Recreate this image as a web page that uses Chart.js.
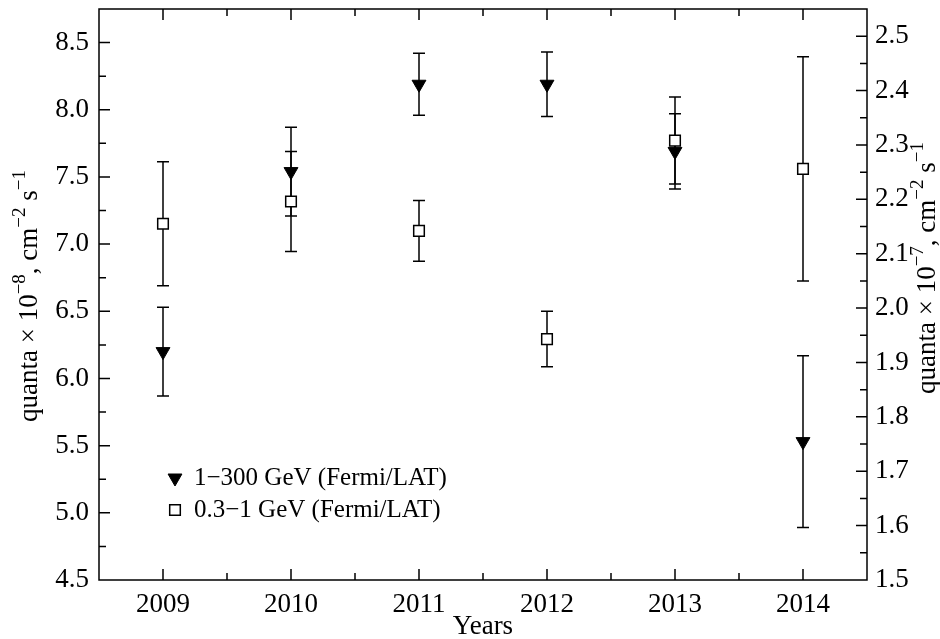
<!DOCTYPE html>
<html>
<head>
<meta charset="utf-8">
<script src="https://cdn.jsdelivr.net/npm/chart.js@4.4.1/dist/chart.umd.min.js"></script>
<style>
  html, body { margin: 0; padding: 0; background: #fff; }
  #wrap { width: 940px; height: 639px; }
</style>
</head>
<body>
<div id="wrap"><canvas id="fluxChart" width="940" height="639"></canvas></div>
<script>
// Yıllar ve akı değerleri
const years = [2009, 2010, 2011, 2012, 2013, 2014];
// 1-300 GeV (sol eksen, x 10^-8)
const hardFlux = [6.20, 7.54, 8.19, 8.19, 7.69, 5.53];
const hardErr = [0.33, 0.33, 0.23, 0.24, 0.28, 0.64];
// 0.3-1 GeV (sağ eksen, x 10^-7)
const softFlux = [2.155, 2.196, 2.142, 1.943, 2.308, 2.256];
const softErr = [0.114, 0.092, 0.056, 0.051, 0.080, 0.206];

// Eksen etiketleri
const xTicks = [2009, 2010, 2011, 2012, 2013, 2014];
const leftTicks = [4.5, 5.0, 5.5, 6.0, 6.5, 7.0, 7.5, 8.0, 8.5];
const rightTicks = [1.5, 1.6, 1.7, 1.8, 1.9, 2.0, 2.1, 2.2, 2.3, 2.4, 2.5];

const legendLabels = ['1\u2212300 GeV (Fermi/LAT)', '0.3\u22121 GeV (Fermi/LAT)'];

const FONT = 'Liberation Serif, Times New Roman, serif';
const FONT_SIZE = 27;

function fixWidth(w) {
    return function(scale) {
        scale.width = w;
        scale.paddingTop = 0;
        scale.paddingBottom = 0;
    };
}

// Hata çubukları
const errorBars = {
    id: 'errorBars',
    beforeDatasetsDraw(chart) {
        const ctx = chart.ctx;
        ctx.save();
        ctx.strokeStyle = '#000';
        ctx.lineWidth = 1.5;
        chart.data.datasets.forEach(ds => {
            const ys = chart.scales[ds.yAxisID];
            const xs = chart.scales.x;
            ds.data.forEach((p, i) => {
                const x = xs.getPixelForValue(p.x);
                const top = ys.getPixelForValue(p.y + ds.errors[i]);
                const bot = ys.getPixelForValue(p.y - ds.errors[i]);
                ctx.beginPath();
                ctx.moveTo(x, top); ctx.lineTo(x, bot);
                ctx.moveTo(x - 6, top); ctx.lineTo(x + 6, top);
                ctx.moveTo(x - 6, bot); ctx.lineTo(x + 6, bot);
                ctx.stroke();
            });
        });
        ctx.restore();
    }
};

// Üst simgeli metin
function drawRich(ctx, parts, size) {
    const supSize = Math.round(size * 0.7);
    let total = 0;
    parts.forEach(p => {
        ctx.font = (p.sup ? supSize : size) + 'px ' + FONT;
        p.w = ctx.measureText(p.t).width;
        total += p.w;
    });
    let x = -total / 2;
    parts.forEach(p => {
        ctx.font = (p.sup ? supSize : size) + 'px ' + FONT;
        ctx.fillText(p.t, x, p.sup ? -size * 0.36 : 0);
        x += p.w;
    });
}

const frame = {
    id: 'frame',
    afterDraw(chart) {
        const { ctx, chartArea: a, scales } = chart;
        ctx.save();
        ctx.strokeStyle = '#000';
        ctx.lineWidth = 1.5;
        ctx.strokeRect(a.left, a.top, a.right - a.left, a.bottom - a.top);

        const MAJ = 11, MIN = 7;
        ctx.beginPath();
        xTicks.forEach(v => {
            [[v, MAJ], [v - 0.5, MIN], [v + 0.5, MIN]].forEach(([t, len]) => {
                if (t <= scales.x.min || t >= scales.x.max) return;
                const x = scales.x.getPixelForValue(t);
                ctx.moveTo(x, a.bottom); ctx.lineTo(x, a.bottom - len);
                ctx.moveTo(x, a.top); ctx.lineTo(x, a.top + len);
            });
        });
        leftTicks.forEach(v => {
            [[v, MAJ], [v + 0.25, MIN]].forEach(([t, len]) => {
                if (t <= scales.y.min || t >= scales.y.max) return;
                const y = scales.y.getPixelForValue(t);
                ctx.moveTo(a.left, y); ctx.lineTo(a.left + len, y);
            });
        });
        rightTicks.forEach(v => {
            [[v, MAJ], [v + 0.05, MIN]].forEach(([t, len]) => {
                if (t <= scales.y1.min || t >= scales.y1.max) return;
                const y = scales.y1.getPixelForValue(t);
                ctx.moveTo(a.right, y); ctx.lineTo(a.right - len, y);
            });
        });
        ctx.stroke();

        // eksen başlıkları
        ctx.fillStyle = '#000';
        ctx.textBaseline = 'middle';
        ctx.textAlign = 'left';
        ctx.save();
        ctx.translate(30, 296);
        ctx.rotate(-Math.PI / 2);
        drawRich(ctx, [{ t: 'quanta \u00d7 10' }, { t: '\u22128', sup: true }, { t: ', cm' }, { t: '\u22122', sup: true }, { t: ' s' }, { t: '\u22121', sup: true }], FONT_SIZE);
        ctx.restore();
        ctx.save();
        ctx.translate(928, 268);
        ctx.rotate(-Math.PI / 2);
        drawRich(ctx, [{ t: 'quanta \u00d7 10' }, { t: '\u22127', sup: true }, { t: ', cm' }, { t: '\u22122', sup: true }, { t: ' s' }, { t: '\u22121', sup: true }], FONT_SIZE);
        ctx.restore();
        ctx.save();
        ctx.translate((a.left + a.right) / 2, 627);
        drawRich(ctx, [{ t: 'Years' }], FONT_SIZE);
        ctx.restore();

        // lejant
        const lx = 175, ly = [478, 510];
        chart.data.datasets.forEach((ds, i) => {
            ctx.lineWidth = ds.borderWidth;
            ctx.strokeStyle = ds.borderColor;
            ctx.fillStyle = ds.backgroundColor;
            Chart.helpers.drawPoint(ctx, {
                pointStyle: ds.pointStyle, rotation: ds.rotation || 0,
                radius: ds.pointRadius, borderWidth: ds.borderWidth
            }, lx, ly[i]);
            ctx.fillStyle = '#000';
            ctx.font = '25px ' + FONT;
            ctx.fillText(legendLabels[i], lx + 19, ly[i]);
        });
        ctx.restore();
    }
};

const ctx = document.getElementById('fluxChart').getContext('2d');
new Chart(ctx, {
    type: 'scatter',
    data: {
        datasets: [
            {
                label: legendLabels[0],
                data: years.map((y, i) => ({ x: y, y: hardFlux[i] })),
                errors: hardErr,
                yAxisID: 'y',
                pointStyle: 'triangle',
                rotation: 180,
                pointRadius: 8,
                backgroundColor: '#000',
                borderColor: '#000',
                borderWidth: 1
            },
            {
                label: legendLabels[1],
                data: years.map((y, i) => ({ x: y, y: softFlux[i] })),
                errors: softErr,
                yAxisID: 'y1',
                pointStyle: 'rect',
                pointRadius: 7.5,
                backgroundColor: '#fff',
                borderColor: '#000',
                borderWidth: 1.5
            }
        ]
    },
    options: {
        responsive: false,
        animation: false,
        layout: { padding: { top: 8, left: 0, right: 0, bottom: 0 } },
        plugins: { legend: { display: false }, tooltip: { enabled: false } },
        scales: {
            x: {
                type: 'linear',
                min: 2008.5,
                max: 2014.5,
                afterBuildTicks: s => { s.ticks = xTicks.map(v => ({ value: v })); },
                afterFit: s => { s.height = 59; s.paddingLeft = 0; s.paddingRight = 0; },
                grid: { display: false, drawTicks: false },
                border: { display: false },
                ticks: {
                    color: '#000', padding: 9, maxRotation: 0,
                    font: { family: FONT, size: FONT_SIZE },
                    callback: v => String(v)
                }
            },
            y: {
                position: 'left',
                min: 4.5,
                max: 8.75,
                afterBuildTicks: s => { s.ticks = leftTicks.map(v => ({ value: v })); },
                afterFit: fixWidth(99),
                grid: { display: false, drawTicks: false },
                border: { display: false },
                ticks: {
                    color: '#000', padding: 10,
                    font: { family: FONT, size: FONT_SIZE },
                    callback: v => v.toFixed(1)
                }
            },
            y1: {
                position: 'right',
                min: 1.5,
                max: 2.55,
                afterBuildTicks: s => { s.ticks = rightTicks.map(v => ({ value: v })); },
                afterFit: fixWidth(73),
                grid: { display: false, drawTicks: false },
                border: { display: false },
                ticks: {
                    color: '#000', padding: 8,
                    font: { family: FONT, size: FONT_SIZE },
                    callback: v => v.toFixed(1)
                }
            }
        }
    },
    plugins: [errorBars, frame]
});
</script>
</body>
</html>
